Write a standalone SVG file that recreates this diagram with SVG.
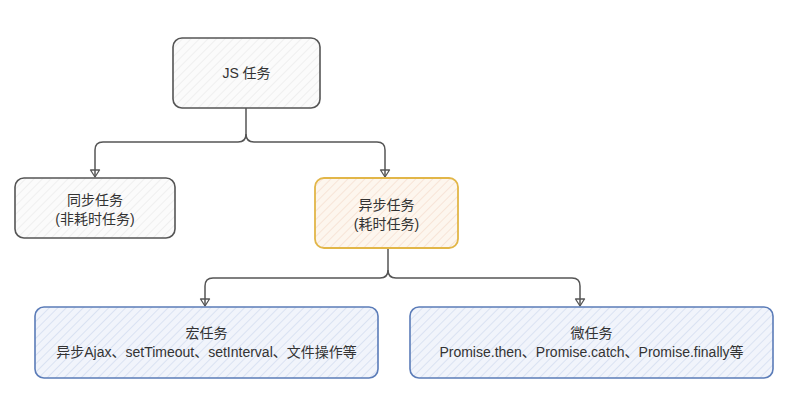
<svg xmlns="http://www.w3.org/2000/svg" width="792" height="405" viewBox="0 0 792 405">
<defs>
<pattern id="hg" width="6" height="6" patternUnits="userSpaceOnUse" patternTransform="rotate(45)">
<rect width="6" height="6" fill="#fbfbfb"/><line x1="0" y1="0" x2="0" y2="6" stroke="#ececec" stroke-width="1.5"/></pattern>
<pattern id="ho" width="6" height="6" patternUnits="userSpaceOnUse" patternTransform="rotate(45)">
<rect width="6" height="6" fill="#fdf6ee"/><line x1="0" y1="0" x2="0" y2="6" stroke="#f6dfd0" stroke-width="1.5"/></pattern>
<pattern id="hb" width="6" height="6" patternUnits="userSpaceOnUse" patternTransform="rotate(45)">
<rect width="6" height="6" fill="#f1f4fb"/><line x1="0" y1="0" x2="0" y2="6" stroke="#d3dcf0" stroke-width="1.5"/></pattern>
<marker id="ar" viewBox="0 0 12 12" refX="11" refY="6" markerWidth="12" markerHeight="12" markerUnits="userSpaceOnUse" orient="auto">
<path d="M4 1.5 L11 6 L4 10.5 Z" fill="none" stroke="#555" stroke-width="1.3" stroke-linejoin="round"/></marker>
</defs>
<style>
text{font-family:"Liberation Sans","Noto Sans CJK SC",sans-serif;font-size:14px;fill:#333;text-anchor:middle}
.g{fill:url(#hg);stroke:#555;stroke-width:1.6}
.o{fill:url(#ho);stroke:#e2b648;stroke-width:1.8}
.b{fill:url(#hb);stroke:#5b7cb8;stroke-width:1.6}
.c{fill:none;stroke:#555;stroke-width:1.5;stroke-linejoin:round}
</style>
<rect width="792" height="405" fill="#ffffff"/>
<g id="connectors">
<path class="c" d="M246 108 L246 134 Q246 142 238 142 L103 142 Q95 142 95 150 L95 177" marker-end="url(#ar)"/>
<path class="c" d="M246 134 Q246 142 254 142 L377 142 Q385 142 385 150 L385 177" marker-end="url(#ar)"/>
<path class="c" d="M388 248 L388 270 Q388 278 380 278 L213 278 Q205 278 205 286 L205 306" marker-end="url(#ar)"/>
<path class="c" d="M388 270 Q388 278 396 278 L572 278 Q580 278 580 286 L580 306" marker-end="url(#ar)"/>
</g>
<g id="js">
<rect class="g" x="173" y="38" width="147" height="70" rx="9"/>
<text x="246.5" y="78">JS 任务</text>
</g>
<g id="sync">
<rect class="g" x="15" y="178" width="160" height="60" rx="9"/>
<text x="95" y="205">同步任务</text>
<text x="95" y="224">(非耗时任务)</text>
</g>
<g id="async">
<rect class="o" x="315" y="178" width="143" height="70" rx="9"/>
<text x="386.5" y="210">异步任务</text>
<text x="386.5" y="229">(耗时任务)</text>
</g>
<g id="macro">
<rect class="b" x="35" y="307" width="343" height="71" rx="9"/>
<text x="206.5" y="338">宏任务</text>
<text x="206.5" y="357">异步Ajax、setTimeout、setInterval、文件操作等</text>
</g>
<g id="micro">
<rect class="b" x="410" y="307" width="363" height="71" rx="9"/>
<text x="591.5" y="338">微任务</text>
<text x="591.5" y="357">Promise.then、Promise.catch、Promise.finally等</text>
</g>
</svg>
